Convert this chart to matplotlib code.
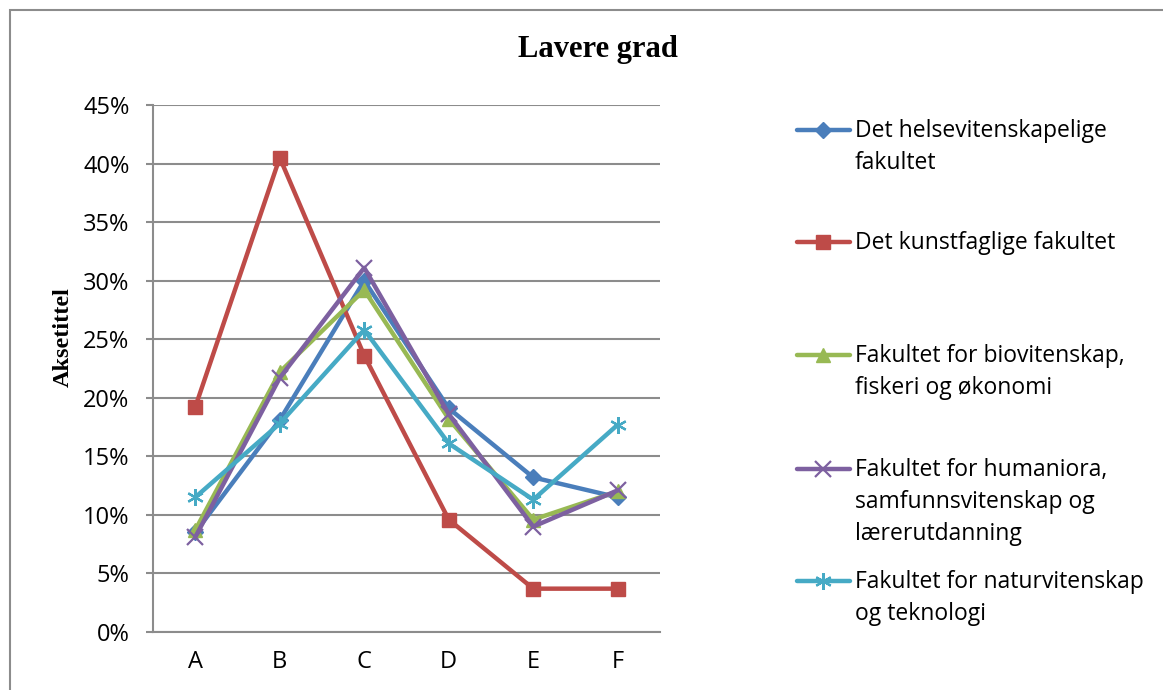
import matplotlib
matplotlib.use("Agg")
import matplotlib.pyplot as plt
from matplotlib.lines import Line2D
from matplotlib.patches import Rectangle
from matplotlib.ticker import PercentFormatter

categories = ["A", "B", "C", "D", "E", "F"]
helse = [8.5, 18.1, 30.0, 19.1, 13.2, 11.5]
kunst = [19.2, 40.5, 23.6, 9.6, 3.7, 3.7]
bio = [8.7, 22.2, 29.2, 18.2, 9.6, 12.0]
hum = [8.1, 21.7, 31.1, 18.6, 9.0, 12.1]
nat = [11.5, 17.8, 25.8, 16.1, 11.3, 17.7]

series_labels = [
    "Det helsevitenskapelige\nfakultet",
    "Det kunstfaglige fakultet",
    "Fakultet for biovitenskap,\nfiskeri og økonomi",
    "Fakultet for humaniora,\nsamfunnsvitenskap og\nlærerutdanning",
    "Fakultet for naturvitenskap\nog teknologi",
]
series_values = [helse, kunst, bio, hum, nat]
colors = ["#4A7EBB", "#BE4B48", "#98B954", "#7D60A0", "#46AAC5"]
markers = ["D", "s", "^", "x", "*"]

W, H = 1163, 690
fig = plt.figure(figsize=(W / 100, H / 100), dpi=100)

# chart border
fig.add_artist(Rectangle((10 / W, -0.1), 2.0, 1.1 - 10 / H, transform=fig.transFigure,
                         fill=False, edgecolor="#8C8C8C", linewidth=1.5))

ax = fig.add_axes([153 / W, 1 - 632 / H, (660 - 153) / W, (632 - 105) / H])
x = list(range(len(categories)))


def marker_style(c, m):
    mk = dict(marker=m, markerfacecolor=c, markeredgecolor=c)
    if m == "D":
        mk.update(markersize=8)
    elif m == "s":
        mk.update(markersize=10)
    elif m == "^":
        mk.update(markersize=10)
    elif m == "x":
        mk.update(markersize=11, markeredgewidth=1.6)
    elif m == "*":
        mk.update(marker=(6, 2, 0), markersize=12, markeredgewidth=1.6)
    return mk


for vals, c, m in zip(series_values, colors, markers):
    ax.plot(x, vals, color=c, linewidth=3.2, solid_capstyle="round",
            solid_joinstyle="round", **marker_style(c, m))

ax.set_xlim(-0.5, len(categories) - 0.5)
ax.set_ylim(0, 45)
ax.set_yticks(range(0, 50, 5))
ax.yaxis.set_major_formatter(PercentFormatter(decimals=0))
ax.set_xticks(x)
ax.set_xticklabels(categories)
ax.grid(axis="y", color="#8C8C8C", linewidth=1.5)
ax.set_axisbelow(True)
for s in ["top", "right"]:
    ax.spines[s].set_visible(False)
for s in ["left", "bottom"]:
    ax.spines[s].set_color("#8C8C8C")
    ax.spines[s].set_linewidth(1.5)
ax.tick_params(axis="y", length=5, width=1.5, color="#8C8C8C", labelsize=17, pad=12)
ax.tick_params(axis="x", length=0, labelsize=17, pad=13)
for lab in ax.get_xticklabels() + ax.get_yticklabels():
    lab.set_fontfamily("Open Sans")

ax.set_ylabel("Aksetittel", fontfamily="Liberation Serif", fontweight="bold",
              fontsize=17.5, va="center")
ax.yaxis.set_label_coords(-(153 - 63) / 507, (632 - 337) / 527)
fig.text(598 / W, 1 - 50 / H, "Lavere grad", fontfamily="Liberation Serif",
         fontweight="bold", fontsize=22, ha="center", va="center")

# legend
entry_y = [130, 242, 355, 469, 581]
for lab, c, m, yy in zip(series_labels, colors, markers, entry_y):
    yf = 1 - yy / H
    fig.add_artist(Line2D([797 / W, 850 / W], [yf, yf], transform=fig.transFigure,
                          color=c, linewidth=3.2, solid_capstyle="round"))
    fig.add_artist(Line2D([823 / W], [yf], transform=fig.transFigure, linestyle="none",
                          color=c, **marker_style(c, m)))
    fig.text(855 / W, yf + 11 / H, lab, fontfamily="Open Sans", fontsize=16.5,
             ha="left", va="top", linespacing=1.45)

fig.savefig("out.png", dpi=100)
